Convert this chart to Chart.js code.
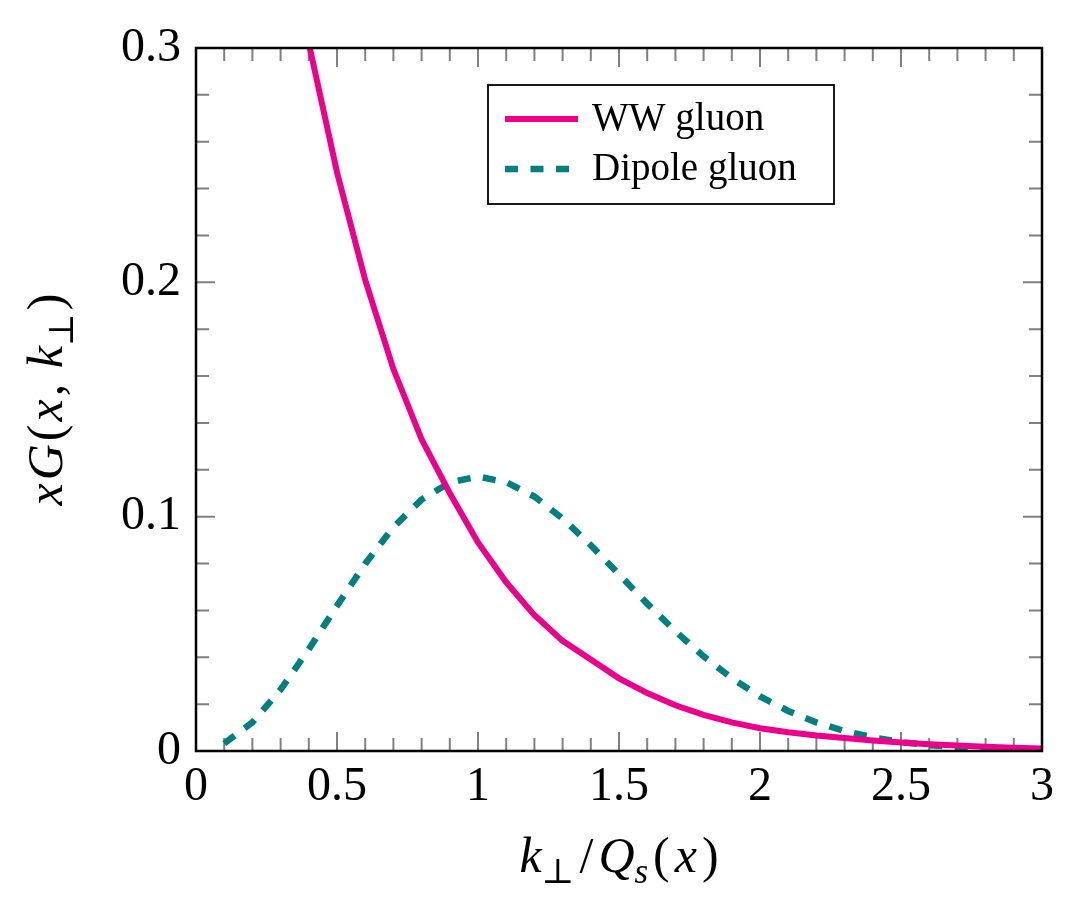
<!DOCTYPE html>
<html>
<head>
<meta charset="utf-8">
<script src="https://cdn.jsdelivr.net/npm/chart.js@4.4.1/dist/chart.umd.min.js"></script>
<style>
  html, body { margin: 0; padding: 0; background: #fff; }
  #wrap { width: 1076px; height: 897px; }
</style>
</head>
<body>
<div id="wrap"><canvas id="chart" width="1076" height="897"></canvas></div>
<script>
// k_perp / Q_s(x) sample points
const kperp = [0.1, 0.2, 0.3, 0.4, 0.5, 0.6, 0.7, 0.8, 0.9, 1.0,
               1.1, 1.2, 1.3, 1.4, 1.5, 1.6, 1.7, 1.8, 1.9, 2.0,
               2.1, 2.2, 2.3, 2.4, 2.5, 2.6, 2.7, 2.8, 2.9, 3.0];

// WW gluon (runs off the top below 0.4)
const wwGluon = [null, null, null, 0.302, 0.247, 0.201, 0.163, 0.133, 0.110, 0.089,
                 0.072, 0.058, 0.047, 0.039, 0.031, 0.0247, 0.0195, 0.0154, 0.0122, 0.0097,
                 0.0080, 0.0066, 0.0055, 0.0045, 0.0036, 0.0029, 0.0023, 0.0018, 0.0014, 0.0011];

// Dipole gluon
const dipoleGluon = [0.0032, 0.0122, 0.0262, 0.0434, 0.0620, 0.0799, 0.0955, 0.1073, 0.1146, 0.1171,
                     0.1147, 0.1086, 0.0992, 0.0878, 0.0754, 0.0629, 0.0511, 0.0404, 0.0311, 0.0233,
                     0.0171, 0.0122, 0.0085, 0.0058, 0.0038, 0.0025, 0.0016, 0.0010, 0.0006, 0.0004];

const seriesNames = ['WW gluon', 'Dipole gluon'];
const xTicks = [0, 0.5, 1, 1.5, 2, 2.5, 3];
const yTicks = [0, 0.1, 0.2, 0.3];

const PINK = '#ec008c';
const TEAL = '#008080';
const SERIF = '"Liberation Serif", "DejaVu Serif", serif';

const toPoints = ys => kperp.map((k, i) => ({ x: k, y: ys[i] })).filter(p => p.y !== null);

// draw a run of text pieces (italic / upright / subscript) starting at x
function pieceFont(p, size) {
    return (p.it ? 'italic ' : '') + (p.sub ? size * 0.7 : size) + 'px ' + SERIF;
}
function drawPieces(ctx, pieces, size, x, y, gap) {
    pieces.forEach(p => {
        ctx.font = pieceFont(p, size);
        ctx.fillText(p.t, x, y + (p.sub ? size * 0.22 : 0));
        x += ctx.measureText(p.t).width + (p.tight ? 0 : gap);
    });
}
function piecesWidth(ctx, pieces, size, gap) {
    let w = 0;
    pieces.forEach(p => {
        ctx.font = pieceFont(p, size);
        w += ctx.measureText(p.t).width + (p.tight ? 0 : gap);
    });
    return w - gap;
}

const xTitle = [
    { t: 'k', it: true, tight: true }, { t: '⊥', sub: true }, { t: '/' },
    { t: 'Q', it: true, tight: true }, { t: 's', it: true, sub: true },
    { t: '(' }, { t: 'x', it: true }, { t: ')' }
];
const yTitle = [
    { t: 'x', it: true }, { t: 'G', it: true }, { t: '(' }, { t: 'x', it: true },
    { t: ', ' }, { t: 'k', it: true, tight: true }, { t: '⊥', sub: true }, { t: ')' }
];

// inward ticks on all four sides, frame, titles, legend
const tickPlugin = {
    id: 'inTicks',
    beforeDatasetsDraw(chart) {
        const { ctx, chartArea: a, scales: { x, y } } = chart;
        ctx.save();
        ctx.strokeStyle = '#808080';
        ctx.lineWidth = 2;
        ctx.beginPath();
        for (let i = 1; i < 30; i++) {
            const px = x.getPixelForValue(i / 10);
            const len = i % 5 === 0 ? 19 : 13;
            ctx.moveTo(px, a.bottom); ctx.lineTo(px, a.bottom - len);
            ctx.moveTo(px, a.top); ctx.lineTo(px, a.top + len);
        }
        for (let i = 1; i < 15; i++) {
            const py = y.getPixelForValue(i * 0.02);
            const len = i % 5 === 0 ? 19 : 13;
            ctx.moveTo(a.left, py); ctx.lineTo(a.left + len, py);
            ctx.moveTo(a.right, py); ctx.lineTo(a.right - len, py);
        }
        ctx.stroke();
        ctx.restore();
    },
    afterDraw(chart) {
        const { ctx, chartArea: a } = chart;
        ctx.save();
        ctx.strokeStyle = '#000';
        ctx.lineWidth = 2.5;
        ctx.strokeRect(a.left, a.top, a.right - a.left, a.bottom - a.top);

        // axis titles
        ctx.fillStyle = '#000';
        ctx.textBaseline = 'alphabetic';
        ctx.textAlign = 'left';
        const ts = 50;
        const xw = piecesWidth(ctx, xTitle, ts, 5);
        drawPieces(ctx, xTitle, ts, (a.left + a.right) / 2 - xw / 2, 872, 5);

        const yw = piecesWidth(ctx, yTitle, ts, 3);
        ctx.translate(62, (a.top + a.bottom) / 2);
        ctx.rotate(-Math.PI / 2);
        drawPieces(ctx, yTitle, ts, -yw / 2, 0, 3);
        ctx.restore();

        // legend box
        ctx.save();
        const lx = a.left + 292, ly = a.top + 37, lw = 346, lh = 119;
        ctx.fillStyle = '#fff';
        ctx.fillRect(lx, ly, lw, lh);
        ctx.strokeStyle = '#000';
        ctx.lineWidth = 1.8;
        ctx.strokeRect(lx, ly, lw, lh);
        chart.data.datasets.forEach((ds, i) => {
            const cy = ly + 34 + i * 50;
            ctx.strokeStyle = ds.borderColor;
            ctx.lineWidth = ds.borderWidth;
            ctx.setLineDash(ds.borderDash || []);
            ctx.beginPath();
            ctx.moveTo(lx + 17, cy);
            ctx.lineTo(lx + (ds.borderDash ? 82 : 90), cy);
            ctx.stroke();
            ctx.setLineDash([]);
            ctx.fillStyle = '#000';
            ctx.font = '39px ' + SERIF;
            ctx.textBaseline = 'middle';
            ctx.fillText(ds.label, lx + 104, cy + 1);
        });
        ctx.restore();
    }
};

new Chart(document.getElementById('chart'), {
    type: 'line',
    data: {
        datasets: [
            {
                label: seriesNames[0],
                data: toPoints(wwGluon),
                borderColor: PINK,
                borderWidth: 6,
                pointRadius: 0,
                tension: 0,
                fill: false
            },
            {
                label: seriesNames[1],
                data: toPoints(dipoleGluon),
                borderColor: TEAL,
                borderWidth: 6.5,
                borderDash: [13, 12.5],
                borderCapStyle: 'butt',
                pointRadius: 0,
                tension: 0,
                fill: false
            }
        ]
    },
    options: {
        responsive: false,
        animation: false,
        layout: { padding: { top: 48, right: 34, left: 0, bottom: 0 } },
        plugins: {
            legend: { display: false },
            tooltip: { enabled: false }
        },
        scales: {
            x: {
                type: 'linear',
                min: 0,
                max: 3,
                afterFit: s => { s.height = 146; },
                afterBuildTicks: s => { s.ticks = xTicks.map(v => ({ value: v })); },
                grid: { display: false, drawTicks: false },
                border: { display: false },
                ticks: {
                    color: '#000',
                    padding: 8,
                    maxRotation: 0,
                    callback: v => String(v),
                    font: { family: SERIF, size: 48 }
                }
            },
            y: {
                type: 'linear',
                min: 0,
                max: 0.3,
                afterFit: s => { s.width = 196; },
                afterBuildTicks: s => { s.ticks = yTicks.map(v => ({ value: v })); },
                grid: { display: false, drawTicks: false },
                border: { display: false },
                ticks: {
                    color: '#000',
                    padding: 15,
                    callback: v => String(v),
                    font: { family: SERIF, size: 48 }
                }
            }
        }
    },
    plugins: [tickPlugin]
});
</script>
</body>
</html>
